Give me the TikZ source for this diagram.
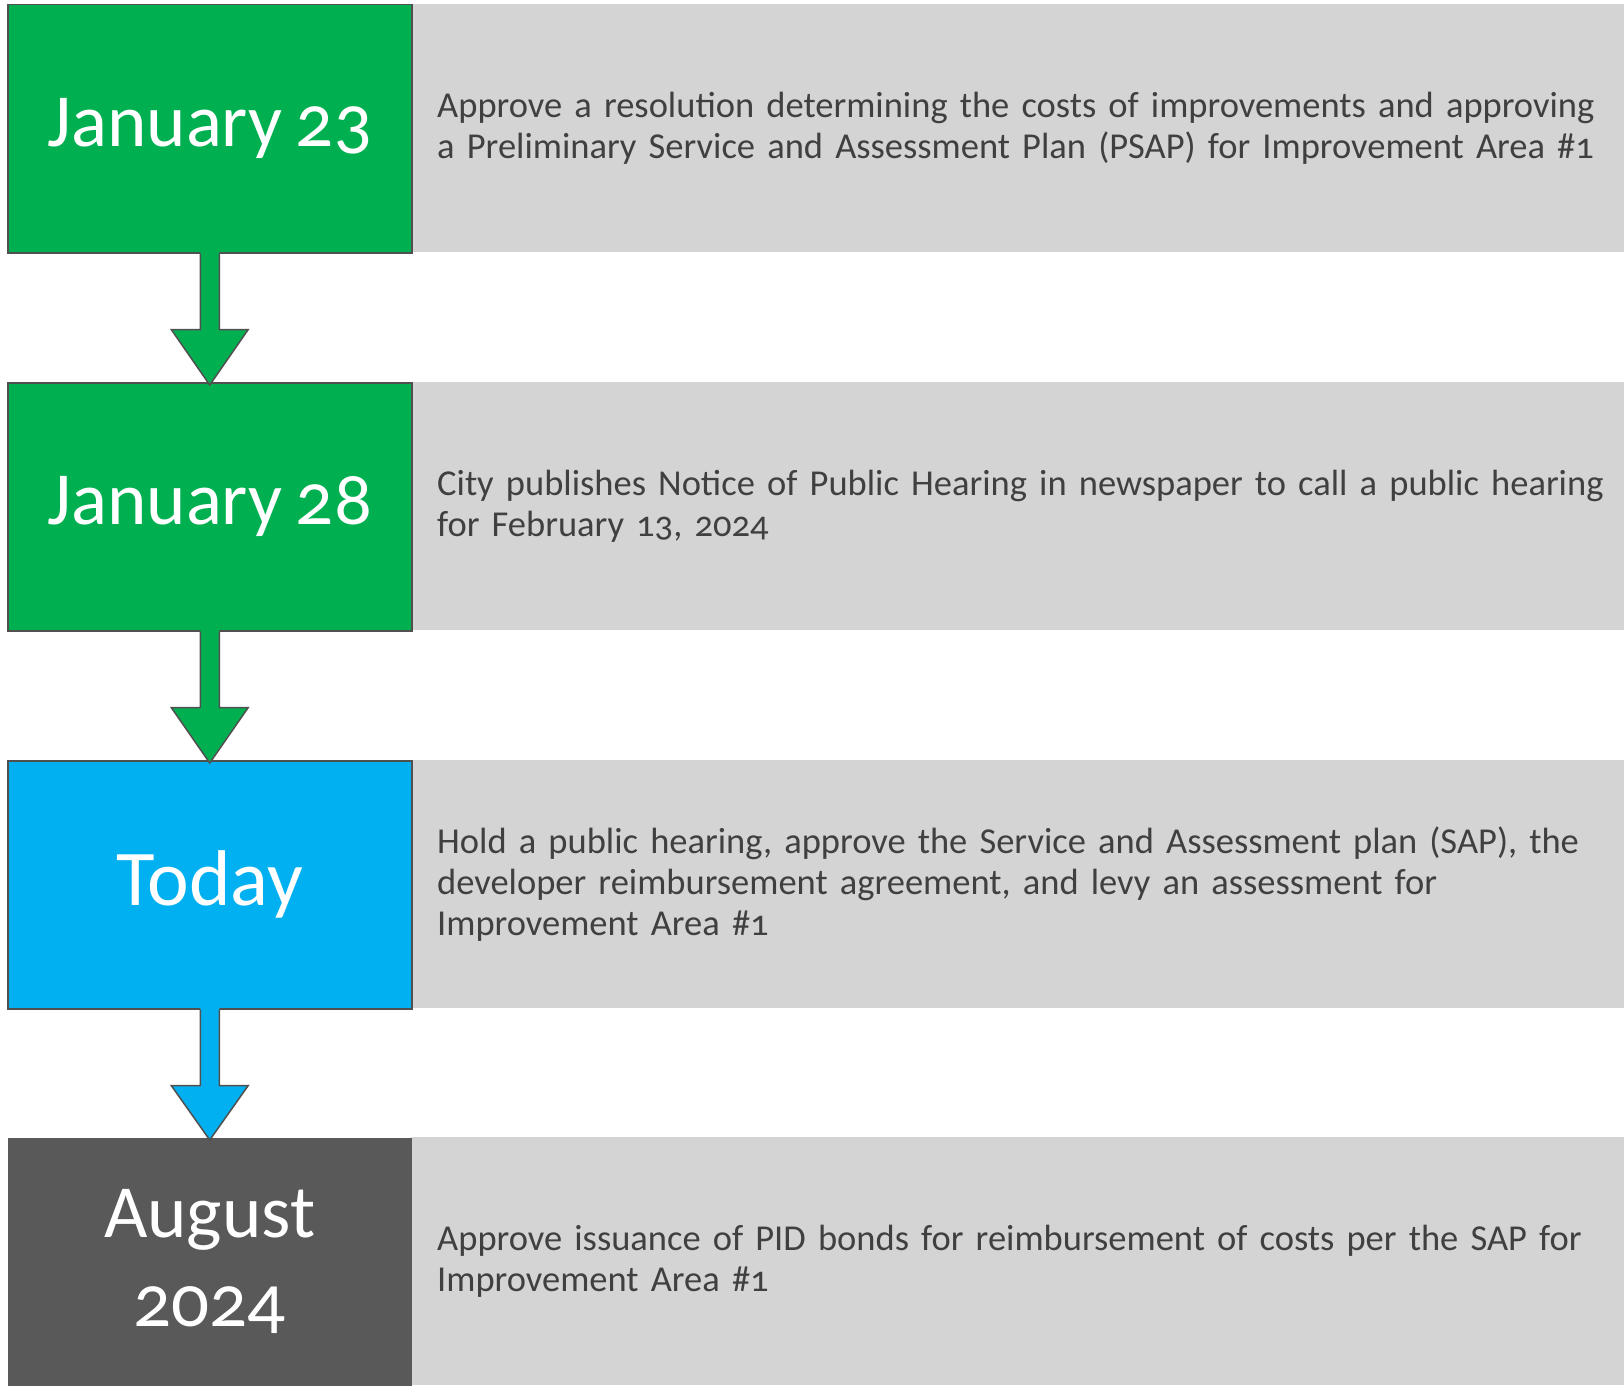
\documentclass[tikz,border=0pt]{standalone}
\usepackage{fontspec}
\setmainfont{Carlito}[Numbers=OldStyle, WordSpace=0.8]
\usetikzlibrary{calc}
\definecolor{stepgreen}{HTML}{00B050}
\definecolor{stepblue}{HTML}{00B0F0}
\definecolor{stepdark}{HTML}{595959}
\definecolor{panelgray}{HTML}{D4D4D4}
\definecolor{bodytext}{HTML}{404040}
\definecolor{edgegray}{HTML}{505050}
\tikzset{
  datebox/.style={rectangle, draw=edgegray, line width=1.5pt, anchor=north west,
    minimum width=404pt, minimum height=248pt, inner sep=0pt, text=white,
    align=center, font=\fontsize{75}{89}\selectfont},
  descbox/.style={rectangle, fill=panelgray, anchor=north west,
    minimum width=1213pt, minimum height=248pt, inner sep=0pt,
    text width=1213pt, align=left, text=bodytext,
    font=\fontsize{36.5}{41}\selectfont},
  edge/.style={draw=edgegray, line width=1.5pt, line join=miter},
}
% down arrow from the bottom of one date box to the top of the next
\newcommand\steparrow[3]{%
  \fill[#3] ($(#1.south)+(-9.5,-2)$) -- ($(#1.south)+(-9.5,76)$) -- ($(#1.south)+(-38.5,76)$)
    -- ($(#2.north)+(0,3)$) -- ($(#1.south)+(38.5,76)$) -- ($(#1.south)+(9.5,76)$)
    -- ($(#1.south)+(9.5,-2)$) -- cycle;
  \draw[edge] ($(#1.south)+(-9.5,0)$) -- ($(#1.south)+(-9.5,76)$) -- ($(#1.south)+(-38.5,76)$)
    -- ($(#2.north)+(0,3)$) -- ($(#1.south)+(38.5,76)$) -- ($(#1.south)+(9.5,76)$)
    -- ($(#1.south)+(9.5,0)$);
}
\begin{document}
\begin{tikzpicture}[x=1pt, y=-1pt]
  \useasboundingbox[fill=white] (0,0) rectangle (1624,1386);

  % description panels
  \node[descbox] (p1) at (411,4) {\hspace*{26pt}\parbox[c]{1185pt}{\raggedright Approve a resolution determining the costs of improvements and approving\\a Preliminary Service and Assessment Plan (PSAP) for Improvement Area \#1}};
  \node[descbox] (p2) at (411,382) {\hspace*{26pt}\parbox[c]{1185pt}{\raggedright City publishes Notice of Public Hearing in newspaper to call a public hearing\\for February 13, 2024}};
  \node[descbox] (p3) at (411,760) {\hspace*{26pt}\parbox[c]{1185pt}{\raggedright Hold a public hearing, approve the Service and Assessment plan (SAP), the\\developer reimbursement agreement, and levy an assessment for\\Improvement Area \#1}};
  \node[descbox] (p4) at (411,1137) {\hspace*{26pt}\parbox[c]{1185pt}{\raggedright Approve issuance of PID bonds for reimbursement of costs per the SAP for\\Improvement Area \#1}};

  % date boxes
  \node[datebox, fill=stepgreen] (d1) at (7,4) {January 23};
  \node[datebox, fill=stepgreen] (d2) at (7,382) {January 28};
  \node[datebox, fill=stepblue, font=\fontsize{79}{89}\selectfont] (d3) at (7,760) {Today};
  \node[datebox, fill=stepdark, draw=none] (d4) at (7,1137) {August\\2024};

  % connectors
  \steparrow{d1}{d2}{stepgreen}
  \steparrow{d2}{d3}{stepgreen}
  \steparrow{d3}{d4}{stepblue}
\end{tikzpicture}
\end{document}
